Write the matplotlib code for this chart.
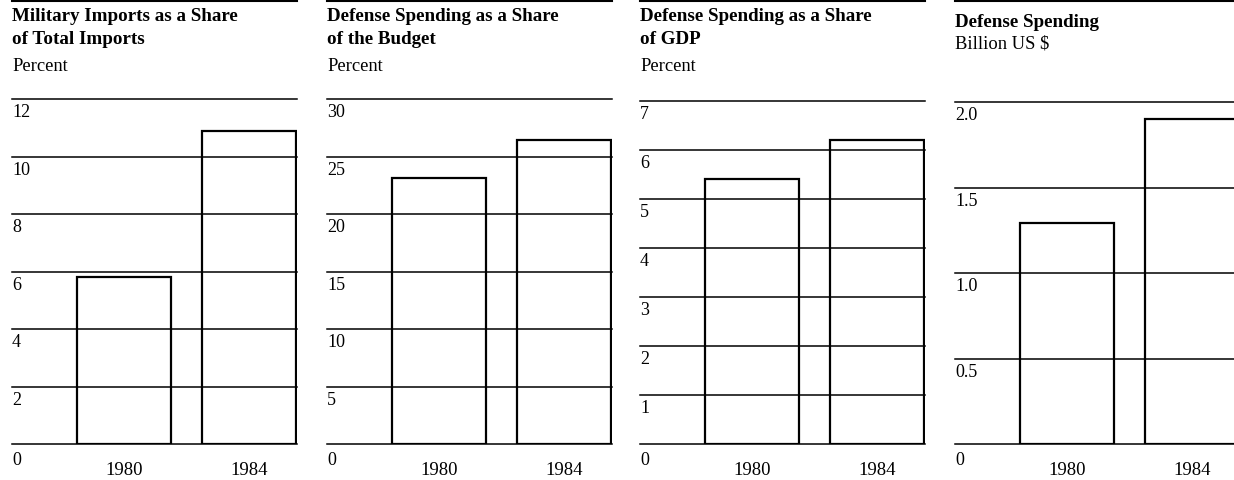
import matplotlib

matplotlib.use("Agg")
import matplotlib.pyplot as plt
from matplotlib.lines import Line2D

plt.rcParams["font.family"] = ["Liberation Serif", "DejaVu Serif"]

# ── 数据 ──
years = ["1980", "1984"]

titles = [
    "Military Imports as a Share\nof Total Imports",
    "Defense Spending as a Share\nof the Budget",
    "Defense Spending as a Share\nof GDP",
    "Defense Spending",
]
units = ["Percent", "Percent", "Percent", "Billion US $"]

imports_share = [5.8, 10.9]
budget_share = [23.1, 26.4]
gdp_share = [5.4, 6.2]
spending_bn = [1.29, 1.9]

ticks_imports = [0, 2, 4, 6, 8, 10, 12]
ticks_budget = [0, 5, 10, 15, 20, 25, 30]
ticks_gdp = [0, 1, 2, 3, 4, 5, 6, 7]
ticks_spending = [0, 0.5, 1.0, 1.5, 2.0]
tick_fmt = ["{:g}", "{:g}", "{:g}", "{:.1f}"]

series = [imports_share, budget_share, gdp_share, spending_bn]
ticks = [ticks_imports, ticks_budget, ticks_gdp, ticks_spending]

# ── 布局（像素） ──
W, H = 1234, 481
fig = plt.figure(figsize=(W / 100, H / 100), dpi=100)

lefts = [12, 327, 640, 955]
ax_w = 285
y_zero = 445
y_tops = [100, 100, 102, 103]
title_y = [8, 8, 8, 14]
units_y = [58, 58, 58, 35]
FS = 13

for i in range(4):
    left = lefts[i]
    top = y_tops[i]
    ax = fig.add_axes([left / W, 1 - y_zero / H, ax_w / W, (y_zero - top) / H])
    vals = series[i]
    tk = ticks[i]

    ax.bar([0, 1], vals, width=0.75, color="white", edgecolor="black",
           linewidth=1.6, zorder=1)
    for t in tk:
        ax.axhline(t, color="black", linewidth=1.1, zorder=2, clip_on=False)
        off = -5 if t == 0 else -3
        lab = "0" if t == 0 else tick_fmt[i].format(t)
        ax.annotate(lab, xy=(0, t),
                    xycoords=("axes fraction", "data"),
                    xytext=(0, off), textcoords="offset points",
                    ha="left", va="top", fontsize=FS)

    for x, yr in zip([0, 1], years):
        ax.annotate(yr, xy=(x, 0), xycoords=("data", "data"),
                    xytext=(0, -12), textcoords="offset points",
                    ha="center", va="top", fontsize=FS + 0.5)

    ax.set_xlim(-0.893, 1.38)
    ax.set_ylim(0, tk[-1])
    ax.axis("off")

    # 标题 + 单位
    fig.text(left / W, 1 - title_y[i] / H, titles[i], ha="left", va="top",
             fontsize=FS + 0.7, fontweight="bold", linespacing=1.45)
    fig.text(left / W, 1 - units_y[i] / H, units[i],
             ha="left", va="top", fontsize=FS + 0.3)

    # 顶部横线
    fig.add_artist(Line2D([left / W, (left + ax_w) / W], [1 - 2 / H, 1 - 2 / H],
                          color="black", linewidth=1.5))

fig.savefig("out.png", dpi=100)
